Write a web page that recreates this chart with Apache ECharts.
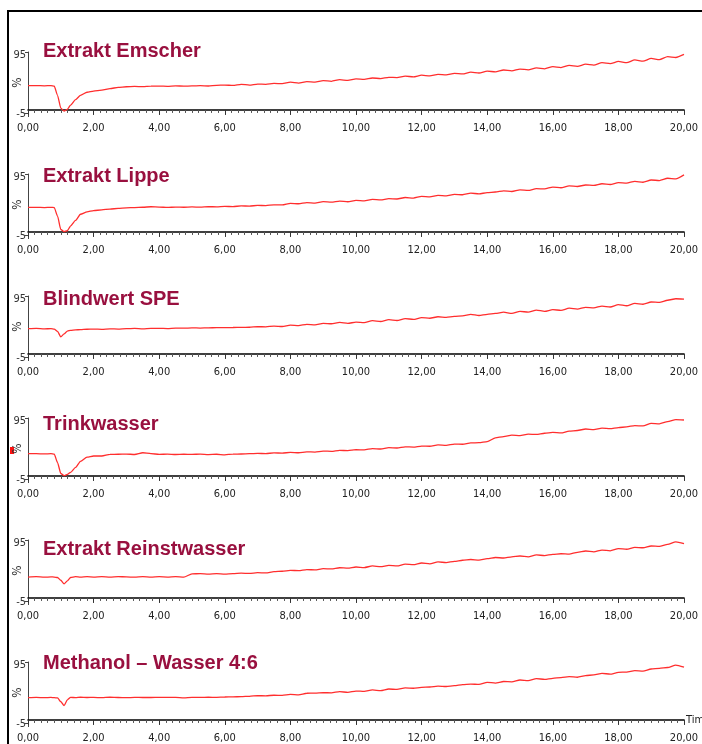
<!DOCTYPE html>
<html>
<head>
<meta charset="utf-8">
<script src="https://cdn.jsdelivr.net/npm/echarts@6/dist/echarts.min.js"></script>
<style>
  html, body { margin: 0; padding: 0; background: #fff; }
  #chart { width: 702px; height: 744px; }
</style>
</head>
<body>
<div id="chart"></div>
<script>
// ---- data ----
const titles = ['Extrakt Emscher', 'Extrakt Lippe', 'Blindwert SPE', 'Trinkwasser', 'Extrakt Reinstwasser', 'Methanol \u2013 Wasser 4:6'];
const times = [0, 0.25, 0.5, 0.7, 0.8, 0.9, 1.0, 1.1, 1.2, 1.3, 1.45, 1.6, 1.8, 2.0,
  2.25, 2.5, 2.75, 3.0, 3.25, 3.5, 3.75, 4.0, 4.25, 4.5, 4.75, 5.0, 5.25, 5.5, 5.75, 6.0,
  6.25, 6.5, 6.75, 7.0, 7.25, 7.5, 7.75, 8.0, 8.25, 8.5, 8.75, 9.0, 9.25, 9.5, 9.75, 10.0,
  10.25, 10.5, 10.75, 11.0, 11.25, 11.5, 11.75, 12.0, 12.25, 12.5, 12.75, 13.0, 13.25, 13.5, 13.75, 14.0,
  14.25, 14.5, 14.75, 15.0, 15.25, 15.5, 15.75, 16.0, 16.25, 16.5, 16.75, 17.0, 17.25, 17.5, 17.75, 18.0,
  18.25, 18.5, 18.75, 19.0, 19.25, 19.5, 19.75, 20.0];
const emscher = [40, 40, 39.6, 40, 39.2, 24, 3, -2, 1, 8, 17, 24, 29, 31,
  32.5, 35, 37, 38, 38.5, 38.2, 39, 39.2, 38.8, 39.5, 39, 39.4, 39.8, 39.3, 40.3, 40.8,
  40.2, 42, 40.8, 42.5, 42, 43.6, 43, 45.5, 44, 46.3, 45.5, 48, 47, 49.6, 48.5, 51,
  50, 52.4, 51.5, 53.5, 53, 55.5, 54.2, 57, 55.8, 58.4, 57.5, 60, 59, 62, 60.6, 63.5,
  62.5, 65.5, 64, 67, 65.8, 69, 67.5, 71, 69.5, 73, 71.5, 75, 73.5, 77.5, 76, 79.5,
  77.5, 82, 80, 84.5, 82.5, 87.5, 86, 91];
const lippe = [40.3, 40.3, 40, 40.3, 40, 26, 4, 0.4, 2, 10, 19, 29, 33, 35,
  36.2, 37.5, 38.5, 39.5, 40, 40.5, 41.3, 40.8, 40.2, 40.8, 40.5, 41, 40.7, 41.4, 41.2, 42,
  41.5, 42.8, 42.3, 43.6, 43.2, 44.5, 44.3, 47, 46.2, 48, 47.3, 49.6, 48.8, 50.5, 49.5, 51.8,
  51, 53.5, 52.5, 54.5, 54, 56.5, 55.5, 58.3, 57.5, 60, 59.3, 61.6, 61, 63.5, 62.5, 64.4,
  65.5, 67.5, 66.3, 69, 68, 71, 70.5, 73.6, 72.5, 75.5, 74.5, 77, 76.2, 79, 77.8, 80.8,
  80, 83, 81.5, 85.2, 84.3, 88, 87, 93.5];
const blindwert = [41.4, 41.8, 41.2, 41.5, 40.8, 37, 28, 33, 37.5, 38.8, 39.5, 39.8, 40.5, 40.8,
  40.4, 41.2, 40.8, 41.4, 41.8, 41.2, 42, 42, 41.6, 42.4, 42.2, 42.8, 42.5, 42.9, 43, 43.1,
  43.4, 43.6, 43.8, 44.7, 44.5, 45.6, 45, 47.4, 46.5, 48.6, 47.8, 50.1, 49.5, 51.6, 50, 52.3,
  51.5, 54.5, 53.2, 56.2, 54.8, 58, 56.6, 59.5, 58.5, 61, 60, 61.6, 62.5, 64.8, 63, 65,
  66.5, 68.5, 66.5, 69.9, 68.5, 72, 69.8, 72.6, 71.5, 75, 73.5, 76.4, 75.5, 78.5, 77, 80.8,
  79, 83, 81.5, 85.2, 84.5, 88, 90.5, 90];
const trinkwasser = [36.5, 36.5, 36.2, 36.5, 35.8, 22, 4, 0.4, 2.5, 6, 14, 24, 31, 32.7,
  32.7, 35.4, 35.6, 35.9, 35.2, 38, 36.5, 35.4, 35.8, 35.2, 35.6, 35.4, 35.8, 35.1, 35.6, 34.6,
  35.8, 36, 36.5, 37, 36.6, 37.8, 37.4, 38.7, 38, 39.6, 39.2, 40.8, 40.3, 42, 41.5, 43,
  42.8, 44.8, 44.2, 46.3, 45.8, 47.8, 47.3, 49, 48.7, 50.8, 50.2, 52.3, 52, 54.2, 54.5, 56.2,
  62.5, 64.5, 67, 66, 68.5, 68, 70, 71.5, 70.5, 73.5, 74.5, 77, 76, 78.5, 77.5, 79.2,
  80.5, 82.5, 82, 86.3, 85.5, 89, 92.5, 91.7];
const reinstwasser = [34.3, 34.8, 34, 34.5, 34.3, 33.5, 29, 23, 28, 33.5, 34.8, 34.2, 34.8, 34.3,
  35, 34.2, 35, 34.5, 34, 34.8, 34.2, 34.8, 34.3, 35, 34, 39.5, 39.8, 39.2, 39.8, 39.2,
  40, 40.6, 40.2, 41.4, 41, 43, 43.8, 45.2, 44.8, 46.5, 46, 48, 47.6, 49.5, 48.8, 50.7,
  49.8, 52.5, 51.2, 53.5, 52.5, 55.5, 54.5, 57.3, 56, 59, 58, 60.1, 61.8, 63, 62, 64.4,
  66.3, 65.5, 67.5, 68.8, 67.5, 70.5, 69.5, 71.5, 72.5, 71.8, 74.8, 77, 75.5, 78.5, 77.3, 80.8,
  79.8, 83, 82.3, 85.2, 84.5, 87.8, 92, 89];
const methanol = [36.5, 37, 36.5, 37, 36.5, 36.2, 30, 23.4, 33, 37, 36.6, 37.2, 36.8, 37,
  36.5, 37.2, 36.8, 36.5, 37, 36.8, 36.8, 37, 36.9, 37, 36.2, 37, 36.9, 37.2, 37.1, 37.6,
  37.8, 38.2, 38.8, 39.8, 39.6, 40.5, 40.3, 41.9, 41.2, 43.8, 44, 44.7, 44.5, 46.5, 45.2, 47.4,
  46.8, 49.2, 48, 50.7, 50, 52.5, 52, 53.5, 54, 55.5, 54.8, 56.2, 58, 58.8, 58.2, 61.6,
  60.5, 63, 62.5, 65.5, 64.5, 67.8, 66.5, 68.2, 69.5, 71, 70, 72.6, 74, 76.5, 75, 78,
  78.5, 81, 80.2, 83.5, 84.5, 86, 90, 86.5];
const yMin = -5, yMax = 95;
const xMin = 0, xMax = 20, xStep = 2;
const xAxisName = 'Time';
const yAxisName = '%';

// ---- layout ----
const allSeries = [emscher, lippe, blindwert, trinkwasser, reinstwasser, methanol];
const axisY = [117, 239, 361, 483, 605, 727];
const titleY = [52, 177, 300, 425, 550, 664];
const narrow = "'Liberation Sans Narrow', 'DejaVu Sans Condensed', 'DejaVu Sans', sans-serif";
const lineColor = '#ff2e2e';
const tickFont = { fontFamily: narrow, fontSize: 11, color: '#222' };

const grids = [], xAxes = [], yAxes = [], series = [], titleOpts = [], graphics = [];
allSeries.forEach((vals, i) => {
  grids.push({ left: 28, right: 18, top: axisY[i] - 65, height: 61, containLabel: false, outerBoundsMode: 'none' });
  xAxes.push({
    gridIndex: i, type: 'value', min: xMin, max: xMax, interval: xStep, offset: 4,
    name: i === allSeries.length - 1 ? xAxisName : '',
    nameLocation: 'end', nameGap: 2, nameMoveOverlap: false,
    nameTextStyle: Object.assign({}, tickFont, { align: 'left' }),
    axisLine: { show: true, lineStyle: { color: '#000', width: 1.6 } },
    axisTick: { show: true, length: 5, lineStyle: { color: '#333', width: 1 } },
    minorTick: { show: true, splitNumber: 10, length: 3, lineStyle: { color: '#555', width: 1 } },
    splitLine: { show: false },
    axisLabel: Object.assign({}, tickFont, {
      margin: 6,
      formatter: v => v.toFixed(2).replace('.', ',')
    })
  });
  yAxes.push({
    gridIndex: i, type: 'value', min: yMin, max: yMax, interval: yMax - yMin,
    name: yAxisName, nameLocation: 'middle', nameRotate: 90, nameGap: 4, nameMoveOverlap: false,
    nameTextStyle: Object.assign({}, tickFont, { color: '#333', fontSize: 12 }),
    axisLine: { show: true, lineStyle: { color: '#444', width: 1 } },
    axisTick: { show: true, length: 3, lineStyle: { color: '#444' } },
    splitLine: { show: false },
    axisLabel: Object.assign({}, tickFont, {
      color: '#333', margin: 2, verticalAlign: 'middle',
      formatter: v => v === yMax ? '{top|' + v + '}' : '{bot|' + v + '}',
      rich: {
        top: Object.assign({}, tickFont, { color: '#333', padding: [6, 0, 0, 0] }),
        bot: Object.assign({}, tickFont, { color: '#333', padding: [2, 0, 0, 0] })
      }
    })
  });
  series.push({
    type: 'line', xAxisIndex: i, yAxisIndex: i,
    data: times.map((t, k) => [t, vals[k]]),
    showSymbol: false, smooth: 0.2, smoothMonotone: 'x',
    lineStyle: { color: lineColor, width: 1.3 },
    animation: false, silent: true
  });
  titleOpts.push({
    text: titles[i], left: 43, top: titleY[i] - 11, padding: 0,
    textStyle: { fontFamily: "'Liberation Sans', Arial, sans-serif", fontSize: 20, fontWeight: 'bold', color: '#99103f' }
  });
  // extend y axis line down to the offset x axis
  graphics.push({ type: 'line', shape: { x1: 28.5, y1: axisY[i] - 4, x2: 28.5, y2: axisY[i] }, style: { stroke: '#444', lineWidth: 1 } });
});
// frame
graphics.push({ type: 'rect', shape: { x: 7, y: 10, width: 2, height: 734 }, style: { fill: '#000' } });
graphics.push({ type: 'rect', shape: { x: 7, y: 10, width: 695, height: 2 }, style: { fill: '#000' } });
// small red marker beside Trinkwasser
graphics.push({ type: 'rect', shape: { x: 10, y: 447, width: 4, height: 7 }, style: { fill: '#ff1010' } });

const chart = echarts.init(document.getElementById('chart'), null, { renderer: 'canvas' });
chart.setOption({
  backgroundColor: '#fff',
  animation: false,
  title: titleOpts,
  grid: grids,
  xAxis: xAxes,
  yAxis: yAxes,
  series: series,
  graphic: graphics
});
</script>
</body>
</html>
